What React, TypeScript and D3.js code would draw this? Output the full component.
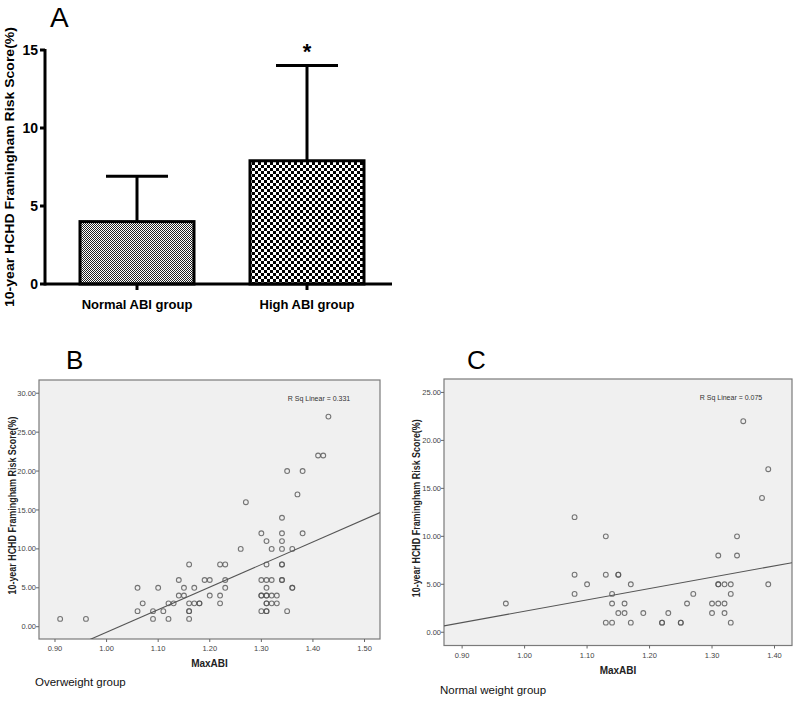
import React from 'react';
import * as d3 from 'd3';

const W = 799;
const H = 702;
const FONT = 'Liberation Sans, Arial, sans-serif';

// Panel A: group means with SD
const groups = ['Normal ABI group', 'High ABI group'];
const means = [4.0, 7.9];
const upperSD = [6.9, 14.0];
const yTicksA = [0, 5, 10, 15];

// Panel B: overweight group (MaxABI, risk score)
const abiB = [
  0.91, 0.96, 1.43, 1.41, 1.42, 1.35, 1.38, 1.37, 1.27, 1.34,
  1.30, 1.34, 1.38, 1.31, 1.34, 1.26, 1.32, 1.34, 1.36,
  1.16, 1.22, 1.23, 1.31, 1.34, 1.34,
  1.14, 1.19, 1.20, 1.23, 1.30, 1.31, 1.32, 1.34, 1.34,
  1.06, 1.10, 1.15, 1.17, 1.23, 1.31, 1.36, 1.36,
  1.14, 1.15, 1.20, 1.22, 1.30, 1.30, 1.31, 1.31, 1.32, 1.33,
  1.07, 1.12, 1.13, 1.16, 1.17, 1.18, 1.18, 1.22, 1.31, 1.31, 1.32, 1.33,
  1.06, 1.09, 1.11, 1.16, 1.16, 1.30, 1.31, 1.31, 1.35,
  1.09, 1.12, 1.16,
];
const riskB = [
  1, 1, 27, 22, 22, 20, 20, 17, 16, 14,
  12, 12, 12, 11, 11, 10, 10, 10, 10,
  8, 8, 8, 8, 8, 8,
  6, 6, 6, 6, 6, 6, 6, 6, 6,
  5, 5, 5, 5, 5, 5, 5, 5,
  4, 4, 4, 4, 4, 4, 4, 4, 4, 4,
  3, 3, 3, 3, 3, 3, 3, 3, 3, 3, 3, 3,
  2, 2, 2, 2, 2, 2, 2, 2, 2,
  1, 1, 1,
];
const fitB = { slope: 29.0, intercept: -29.71, r2: '0.331' };
const xTicksB = [0.9, 1.0, 1.1, 1.2, 1.3, 1.4, 1.5];
const yTicksB = [0, 5, 10, 15, 20, 25, 30];

// Panel C: normal weight group
const abiC = [
  1.35, 1.39, 1.38, 1.08, 1.13, 1.34, 1.31, 1.34,
  1.08, 1.13, 1.15, 1.15,
  1.10, 1.17, 1.31, 1.31, 1.32, 1.33, 1.39,
  1.08, 1.14, 1.27, 1.33,
  0.97, 1.14, 1.16, 1.26, 1.30, 1.31, 1.32,
  1.15, 1.16, 1.19, 1.23, 1.30, 1.32,
  1.13, 1.14, 1.17, 1.22, 1.22, 1.25, 1.25, 1.33,
];
const riskC = [
  22, 17, 14, 12, 10, 10, 8, 8,
  6, 6, 6, 6,
  5, 5, 5, 5, 5, 5, 5,
  4, 4, 4, 4,
  3, 3, 3, 3, 3, 3, 3,
  2, 2, 2, 2, 2, 2,
  1, 1, 1, 1, 1, 1, 1, 1,
];
const fitC = { slope: 11.83, intercept: -9.64, r2: '0.075' };
const xTicksC = [0.9, 1.0, 1.1, 1.2, 1.3, 1.4];
const yTicksC = [0, 5, 10, 15, 20, 25];

const yLabel = '10-year HCHD Framingham Risk Score(%)';

function BarPanel() {
  const y = d3.scaleLinear().domain([0, 15]).range([284, 50]);
  const x = d3.scalePoint<string>().domain(groups).range([52, 392]).padding(0.5);
  const barW = 114;
  const capW = 62;
  return (
    <g>
      <defs>
        <pattern id="fine" width={2} height={2} patternUnits="userSpaceOnUse">
          <rect width={2} height={2} fill="#fff" />
          <rect width={1} height={1} fill="#222" />
          <rect x={1} y={1} width={1} height={1} fill="#222" />
        </pattern>
        <pattern id="coarse" width={6} height={6} patternUnits="userSpaceOnUse">
          <rect width={6} height={6} fill="#fff" />
          <rect width={3} height={3} fill="#000" />
          <rect x={3} y={3} width={3} height={3} fill="#000" />
        </pattern>
      </defs>
      <text x={50} y={27} fontFamily={FONT} fontSize={28}>A</text>
      {groups.map((g, i) => {
        const cx = x(g)!;
        return (
          <g key={g}>
            <line x1={cx} x2={cx} y1={y(means[i])} y2={y(upperSD[i])} stroke="#000" strokeWidth={3} />
            <line x1={cx - capW / 2} x2={cx + capW / 2} y1={y(upperSD[i])} y2={y(upperSD[i])} stroke="#000" strokeWidth={3} />
            <rect
              x={cx - barW / 2}
              y={y(means[i])}
              width={barW}
              height={y(0) - y(means[i])}
              fill={i === 0 ? 'url(#fine)' : 'url(#coarse)'}
              stroke="#000"
              strokeWidth={3}
            />
            <line x1={cx} x2={cx} y1={y(0)} y2={y(0) + 6} stroke="#000" strokeWidth={3} />
            <text x={cx} y={309} textAnchor="middle" fontFamily={FONT} fontWeight="bold" fontSize={13}>{g}</text>
          </g>
        );
      })}
      <text x={x(groups[1])!} y={59} textAnchor="middle" fontFamily={FONT} fontWeight="bold" fontSize={22}>*</text>
      <line x1={45} x2={392} y1={y(0)} y2={y(0)} stroke="#000" strokeWidth={3} />
      <line x1={45} x2={45} y1={y(15) - 1} y2={y(0) + 1.5} stroke="#000" strokeWidth={3} />
      {yTicksA.map(t => (
        <g key={t}>
          <line x1={40} x2={45} y1={y(t)} y2={y(t)} stroke="#000" strokeWidth={3} />
          <text x={38} y={y(t) + 5} textAnchor="end" fontFamily={FONT} fontWeight="bold" fontSize={14}>{t}</text>
        </g>
      ))}
      <text
        transform={`translate(14,${167}) rotate(-90)`}
        textAnchor="middle"
        fontFamily={FONT}
        fontWeight="bold"
        fontSize={13}
        textLength={280}
        lengthAdjust="spacingAndGlyphs"
      >
        {yLabel}
      </text>
    </g>
  );
}

type ScatterProps = {
  id: string;
  letter: string;
  letterX: number;
  xs: number[];
  ys: number[];
  fit: { slope: number; intercept: number; r2: string };
  xDomain: [number, number];
  yDomain: [number, number];
  box: { l: number; r: number; t: number; b: number };
  xTicks: number[];
  yTicks: number[];
  ylabX: number;
  groupLabel: string;
  groupY: number;
  titleY: number;
  tickY: number;
};

function Scatter(p: ScatterProps) {
  const x = d3.scaleLinear().domain(p.xDomain).range([p.box.l, p.box.r]);
  const y = d3.scaleLinear().domain(p.yDomain).range([p.box.b, p.box.t]);
  const fmt = d3.format('.2f');
  const x0 = p.xDomain[0];
  const x1 = p.xDomain[1];
  const line = d3.line<number>().x(d => x(d)).y(d => y(p.fit.slope * d + p.fit.intercept));
  const midX = (p.box.l + p.box.r) / 2;
  return (
    <g>
      <defs>
        <clipPath id={`clip-${p.id}`}>
          <rect x={p.box.l} y={p.box.t} width={p.box.r - p.box.l} height={p.box.b - p.box.t} />
        </clipPath>
      </defs>
      <text x={p.letterX} y={369} fontFamily={FONT} fontSize={26}>{p.letter}</text>
      <rect x={p.box.l} y={p.box.t} width={p.box.r - p.box.l} height={p.box.b - p.box.t} fill="#f0f0f0" stroke="#7a7a7a" strokeWidth={1.2} />
      <path d={line([x0, x1]) || ''} fill="none" stroke="#555" strokeWidth={1.1} clipPath={`url(#clip-${p.id})`} />
      {p.xs.map((v, i) => (
        <circle key={i} cx={x(v)} cy={y(p.ys[i])} r={2.4} fill="none" stroke="#555" strokeOpacity={0.8} strokeWidth={1.1} />
      ))}
      <text x={p.box.r - 61} y={p.box.t + 21} textAnchor="middle" fontFamily={FONT} fontSize={7} fill="#333">
        {`R Sq Linear = ${p.fit.r2}`}
      </text>
      {p.xTicks.map(t => (
        <g key={t}>
          <line x1={x(t)} x2={x(t)} y1={p.box.b} y2={p.box.b + 3} stroke="#666" />
          <text x={x(t)} y={p.tickY} textAnchor="middle" fontFamily={FONT} fontSize={7.5} fill="#444">{fmt(t)}</text>
        </g>
      ))}
      {p.yTicks.map(t => (
        <g key={t}>
          <line x1={p.box.l - 3} x2={p.box.l} y1={y(t)} y2={y(t)} stroke="#666" />
          <text x={p.box.l - 3} y={y(t) + 2.6} textAnchor="end" fontFamily={FONT} fontSize={7.5} fill="#444">{fmt(t)}</text>
        </g>
      ))}
      <text x={midX} y={p.titleY} textAnchor="middle" fontFamily={FONT} fontWeight="bold" fontSize={10} fill="#222">MaxABI</text>
      <text
        transform={`translate(${p.ylabX},${(p.box.t + p.box.b) / 2 - 4}) rotate(-90)`}
        textAnchor="middle"
        fontFamily={FONT}
        fontWeight="bold"
        fontSize={10}
        fill="#222"
        textLength={178}
        lengthAdjust="spacingAndGlyphs"
      >
        {yLabel}
      </text>
      <text x={p.box.l - 4} y={p.groupY} fontFamily={FONT} fontSize={11.5} fill="#111">{p.groupLabel}</text>
    </g>
  );
}

export default function App() {
  return (
    <svg width={W} height={H} style={{ position: 'absolute', left: 0, top: 0, background: '#fff' }}>
      <rect width={W} height={H} fill="#fff" />
      <BarPanel />
      <Scatter
        id="b"
        letter="B"
        letterX={66}
        xs={abiB}
        ys={riskB}
        fit={fitB}
        xDomain={[0.869, 1.53]}
        yDomain={[-1.58, 31.7]}
        box={{ l: 39, r: 380, t: 380, b: 639 }}
        xTicks={xTicksB}
        yTicks={yTicksB}
        ylabX={16}
        groupLabel="Overweight group"
        groupY={686}
        titleY={667}
        tickY={651}
      />
      <Scatter
        id="c"
        letter="C"
        letterX={467}
        xs={abiC}
        ys={riskC}
        fit={fitC}
        xDomain={[0.871, 1.428]}
        yDomain={[-1.38, 26.4]}
        box={{ l: 444, r: 792, t: 379, b: 645.5 }}
        xTicks={xTicksC}
        yTicks={yTicksC}
        ylabX={420}
        groupLabel="Normal weight group"
        groupY={694}
        titleY={674}
        tickY={658}
      />
    </svg>
  );
}
